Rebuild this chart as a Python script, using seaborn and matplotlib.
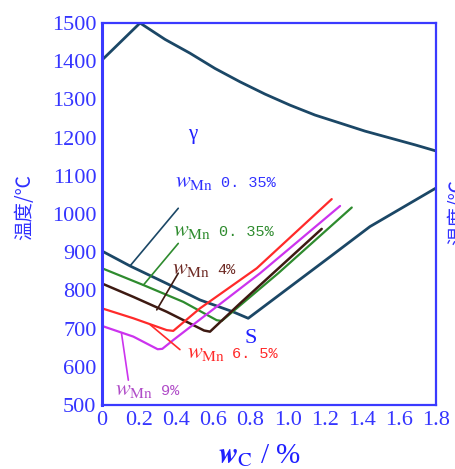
import numpy as np
import pandas as pd
import matplotlib
matplotlib.use("Agg")
import matplotlib.pyplot as plt
import seaborn as sns

# Данные: кривые диаграммы Fe-C (w_C, %  /  температура, °C)
liq_x = [0.0, 0.205, 0.340, 0.474, 0.609, 0.744, 0.878, 1.013, 1.148, 1.283,
         1.417, 1.552, 1.687, 1.8]
liq_y = [1403, 1500, 1457, 1421, 1381, 1346, 1314, 1285, 1259, 1238,
         1217, 1199, 1181, 1165]

gse_x = [0.0, 0.151, 0.349, 0.528, 0.706, 0.788, 1.229, 1.444, 1.8]
gse_y = [903, 864, 818, 775, 744, 727, 888, 967, 1068]

green_x = [0.0, 0.223, 0.438, 0.618, 0.645, 0.95, 1.346]
green_y = [858, 814, 770, 722, 720, 845, 1017]

brown_x = [0.0, 0.169, 0.349, 0.55, 0.582, 0.744, 1.184]
brown_y = [818, 783, 744, 695, 692, 766, 961]

red_x = [0.0, 0.169, 0.349, 0.384, 0.528, 0.834, 1.238]
red_y = [753, 727, 696, 694, 753, 858, 1039]

mag_x = [0.0, 0.169, 0.30, 0.325, 0.384, 0.852, 1.283]
mag_y = [707, 679, 646, 647, 670, 845, 1021]

# выноски: (x0, y0, x1, y1)
lead_dark = [0.411, 1015, 0.151, 864]
lead_green = [0.411, 923, 0.223, 814]
lead_brown = [0.411, 845, 0.295, 749]
lead_red = [0.26, 710, 0.42, 645]
lead_mag = [0.105, 688, 0.142, 565]

# подписи кривых: (x, y, значение)
labels_mn = [
    (0.394, 1071, "0. 35%"),
    (0.383, 942, "0. 35%"),
    (0.375, 842, "4%"),
    (0.456, 623, "6. 5%"),
    (0.07, 526, "9%"),
]

xticks = [0, 0.2, 0.4, 0.6, 0.8, 1.0, 1.2, 1.4, 1.6, 1.8]
xlabels = ["0", "0.2", "0.4", "0.6", "0.8", "1.0", "1.2", "1.4", "1.6", "1.8"]
yticks = [500, 600, 700, 800, 900, 1000, 1100, 1200, 1300, 1400, 1500]

# цвета
c_axis = "#3a3aff"
c_dark = "#1b4766"
c_green = "#2e8b2e"
c_brown = "#3d1a12"
c_red = "#ff2a2a"
c_mag = "#cc33ee"
label_colors = ["#3030ff", c_green, "#6e2a24", c_red, "#b04cc8"]

sns.set_style("white")
plt.rcParams["mathtext.fontset"] = "stix"

fig = plt.figure(figsize=(4.55, 4.69), dpi=100)
ax = fig.add_axes([102 / 455, 1 - 405 / 469, 334 / 455, 382 / 469])

curves = [
    (liq_x, liq_y, c_dark, 2.0),
    (gse_x, gse_y, c_dark, 2.0),
    (green_x, green_y, c_green, 1.6),
    (brown_x, brown_y, c_brown, 1.8),
    (red_x, red_y, c_red, 1.6),
    (mag_x, mag_y, c_mag, 1.6),
]
for xs, ys, col, lw in curves:
    sns.lineplot(x=xs, y=ys, ax=ax, color=col, linewidth=lw, sort=False,
                 estimator=None, legend=False)

for seg, col in [(lead_dark, c_dark), (lead_green, c_green), (lead_brown, c_brown),
                 (lead_red, c_red), (lead_mag, c_mag)]:
    sns.lineplot(x=[seg[0], seg[2]], y=[seg[1], seg[3]], ax=ax, color=col,
                 linewidth=1.2, sort=False, estimator=None, legend=False)

# подписи w_Mn
for (lx, ly, val), col in zip(labels_mn, label_colors):
    ax.annotate(r"$w_{\mathrm{Mn}}$", xy=(lx, ly), fontsize=16, color=col,
                va="baseline")
    ax.annotate(val, xy=(lx, ly), xytext=(33, 0), textcoords="offset points",
                fontsize=11, color=col, va="baseline", family="Liberation Mono")

ax.text(0.80, 675, "S", color="#2020ff", fontsize=16, family="Liberation Serif",
        ha="center", va="center")
ax.text(0.49, 1207, "γ", color="#2020ff", fontsize=15, family="Liberation Serif",
        ha="center", va="center")

ax.set_xlim(0, 1.8)
ax.set_ylim(500, 1500)
ax.set_xticks(xticks)
ax.set_xticklabels(xlabels)
ax.set_yticks(yticks)
ax.tick_params(length=0, labelsize=16, labelcolor="#3535ff", pad=4)
for t in ax.get_xticklabels() + ax.get_yticklabels():
    t.set_family("Liberation Serif")

for side, sp in ax.spines.items():
    sp.set_visible(True)
    sp.set_color(c_axis)
    sp.set_linewidth(2.2 if side == "left" else 1.6)

# подписи осей
fig.text(0.57, 1 - 456 / 469, r"$\mathbfit{w}_{\mathrm{C}}$ / %", fontsize=21,
         color="#2020ff", ha="center", va="center", family="Liberation Serif")
fig.text(25 / 455, 1 - 207 / 469, "温度/℃", rotation=90, fontsize=14,
         color="#3030ff", ha="center", va="center",
         family=["Noto Sans CJK SC", "DejaVu Sans"])
fig.text(458 / 455, 1 - 212 / 469, "温度/℃", rotation=90, fontsize=14,
         color="#3030ff", ha="center", va="center",
         family=["Noto Sans CJK SC", "DejaVu Sans"])

fig.savefig("out.png", dpi=100)
